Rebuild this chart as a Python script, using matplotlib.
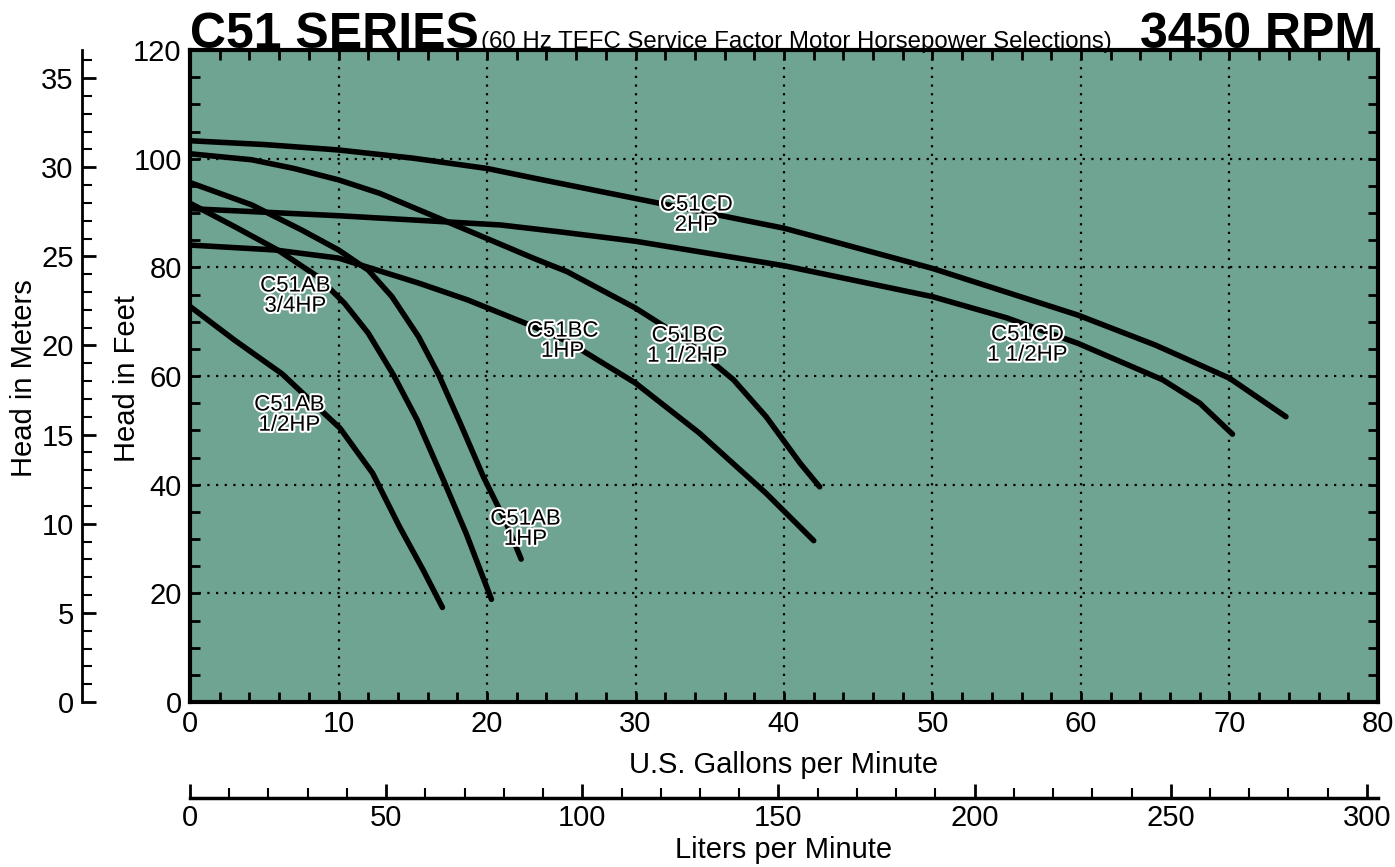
import numpy as np
import matplotlib
matplotlib.use("Agg")
import matplotlib.pyplot as plt
import matplotlib.patheffects as pe
from matplotlib.ticker import MultipleLocator

plt.rcParams['font.family'] = ['Liberation Sans', 'DejaVu Sans']

# pump curves: flow in US gpm, head in feet
ab_half_gpm = [0, 3.0, 6.2, 10.1, 12.3, 14.1, 15.7, 17.0]
ab_half_ft = [72.8, 66.6, 60.4, 50.4, 42.1, 32.3, 24.3, 17.4]

ab_34_gpm = [0, 3.0, 5.9, 8.6, 10.4, 12.0, 13.7, 15.3, 17.06, 18.6, 20.3]
ab_34_ft = [91.8, 87.5, 83.2, 78.3, 73.4, 67.9, 60.2, 51.9, 40.9, 31.0, 18.9]

ab_1_gpm = [0, 4.15, 7.5, 10.0, 12.0, 13.6, 15.4, 16.75, 18.2, 19.75, 21.3, 22.3]
ab_1_ft = [95.6, 91.5, 86.9, 83.2, 79.5, 74.6, 67.2, 60.2, 51.3, 41.5, 32.9, 26.3]

bc_1_gpm = [0, 5.7, 10.0, 15.4, 18.7, 22.6, 25.4, 30.0, 34.3, 38.8, 42.0]
bc_1_ft = [84.1, 83.2, 81.7, 77.1, 74.0, 69.7, 66.4, 58.7, 49.5, 38.4, 29.7]

bc_15_gpm = [0, 4.15, 7.0, 10.0, 12.8, 15.4, 18.7, 23.2, 25.4, 30.0, 33.4, 36.6, 38.8, 41.1, 42.4]
bc_15_ft = [100.9, 99.8, 98.2, 96.1, 93.6, 90.6, 86.8, 81.6, 79.2, 72.5, 66.6, 59.3, 52.5, 43.9, 39.6]

cd_15_gpm = [0, 10, 20.9, 25, 30, 40, 50, 55, 59.8, 65.5, 68, 70.2]
cd_15_ft = [90.8, 89.5, 87.8, 86.5, 84.8, 80.3, 74.6, 70.7, 66.0, 59.3, 55.0, 49.3]

cd_2_gpm = [0, 5, 10, 15, 20, 23.2, 30.5, 40, 43.8, 50, 59.8, 65, 70, 73.8]
cd_2_ft = [103.3, 102.6, 101.6, 100.1, 98.2, 96.4, 92.4, 87.2, 84.4, 79.8, 71.2, 65.7, 59.6, 52.5]

curves = [(ab_half_gpm, ab_half_ft), (ab_34_gpm, ab_34_ft), (ab_1_gpm, ab_1_ft),
          (bc_1_gpm, bc_1_ft), (bc_15_gpm, bc_15_ft), (cd_15_gpm, cd_15_ft),
          (cd_2_gpm, cd_2_ft)]

labels = ["C51AB\n1/2HP", "C51AB\n3/4HP", "C51AB\n1HP", "C51BC\n1HP",
          "C51BC\n1 1/2HP", "C51CD\n1 1/2HP", "C51CD\n2HP"]
label_gpm = [6.7, 7.1, 22.6, 25.1, 33.5, 56.4, 34.1]
label_ft = [52.8, 74.7, 31.8, 66.4, 65.5, 65.7, 89.6]

GPM_MAX, FT_MAX = 80, 120
L_PER_GAL, FT_PER_M = 3.78541, 3.28084

W, H = 1395, 867
fig = plt.figure(figsize=(W / 100, H / 100), dpi=100)

def fx(px):
    return px / W

def fy(py):
    return 1 - py / H

left, right, top, bottom = 190, 1378, 50, 702
ax = fig.add_axes([fx(left), fy(bottom), fx(right - left), fy(top) - fy(bottom)])
ax.set_facecolor('#6FA392')
ax.set_xlim(0, GPM_MAX)
ax.set_ylim(0, FT_MAX)

for g, f in curves:
    ax.plot(g, f, color='black', lw=4, solid_capstyle='round', solid_joinstyle='round', zorder=3)

for txt, x, y in zip(labels, label_gpm, label_ft):
    ax.text(x, y, txt, ha='center', va='center', fontsize=16, linespacing=0.95,
            color='black', zorder=5,
            path_effects=[pe.withStroke(linewidth=3, foreground='white')])

ax.xaxis.set_major_locator(MultipleLocator(10))
ax.xaxis.set_minor_locator(MultipleLocator(2))
ax.yaxis.set_major_locator(MultipleLocator(20))
ax.yaxis.set_minor_locator(MultipleLocator(5))
ax.grid(True, which='major', color='black', linestyle=(0, (1, 2.9)), lw=1.6, zorder=1)
ax.tick_params(which='both', direction='in', top=True, right=True, width=2,
               length=7, labelsize=21, pad=6)
for s in ax.spines.values():
    s.set_linewidth(3)
ax.set_xlabel('U.S. Gallons per Minute', fontsize=21, labelpad=9)

# meters axis
axm = fig.add_axes([fx(82), fy(bottom), 0.001, fy(top) - fy(bottom)])
axm.set_ylim(0, FT_MAX / FT_PER_M)
axm.patch.set_visible(False)
for k in ['top', 'right', 'bottom']:
    axm.spines[k].set_visible(False)
axm.spines['left'].set_linewidth(2)
axm.set_xticks([])
axm.yaxis.set_major_locator(MultipleLocator(5))
axm.yaxis.set_minor_locator(MultipleLocator(1))
axm.tick_params(axis='y', which='major', direction='in', length=10, width=2, labelsize=21, pad=6)
axm.tick_params(axis='y', which='minor', direction='in', length=7, width=1.5)

# liters axis
axl = fig.add_axes([fx(left), fy(798), fx(right - left), 0.001])
axl.set_xlim(0, GPM_MAX * L_PER_GAL)
axl.patch.set_visible(False)
for k in ['top', 'right', 'left']:
    axl.spines[k].set_visible(False)
axl.spines['bottom'].set_linewidth(2.5)
axl.set_yticks([])
axl.xaxis.set_major_locator(MultipleLocator(50))
axl.xaxis.set_minor_locator(MultipleLocator(10))
axl.tick_params(axis='x', which='major', direction='in', length=10, width=2, labelsize=21, pad=4)
axl.tick_params(axis='x', which='minor', direction='in', length=7, width=1.5)
axl.set_xlabel('Liters per Minute', fontsize=21, labelpad=3)

# side labels
fig.text(fx(127), fy(378), 'Head in Feet', fontsize=21, rotation=90, ha='center', va='center')
fig.text(fx(24), fy(378), 'Head in Meters', fontsize=21, rotation=90, ha='center', va='center')

# titles
fig.text(fx(190), fy(48), 'C51 SERIES', fontsize=36, fontweight='bold', ha='left', va='baseline')
fig.text(fx(481), fy(48), '(60 Hz TEFC Service Factor Motor Horsepower Selections)',
         fontsize=17.3, ha='left', va='baseline')
fig.text(fx(1376), fy(48), '3450 RPM', fontsize=36, fontweight='bold', ha='right', va='baseline')

fig.savefig('out.png', dpi=100)
